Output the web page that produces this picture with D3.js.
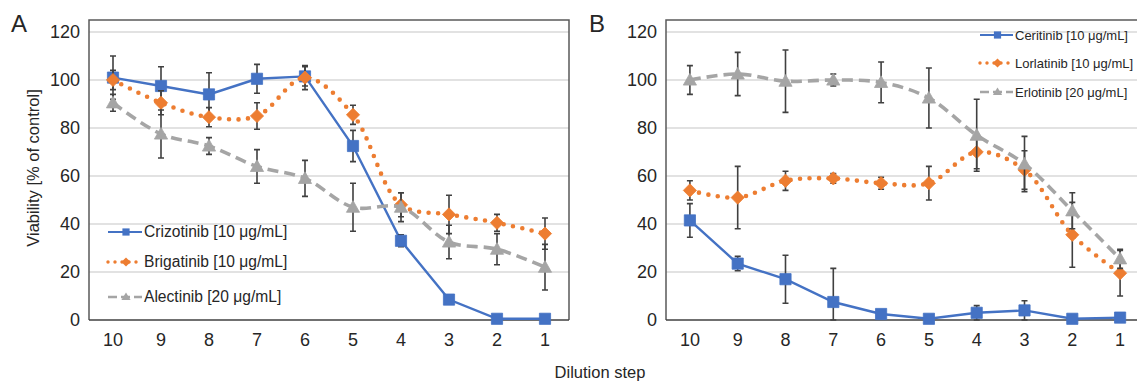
<!DOCTYPE html>
<html>
<head>
<meta charset="utf-8">
<script src="https://cdn.jsdelivr.net/npm/d3@7"></script>
<style>
    body { margin: 0; background: #fff; }
    svg text { font-family: "Liberation Sans", Arial, sans-serif; fill: #262626; }
</style>
</head>
<body>
<div id="wrapper"></div>
<script>

// Data

const steps = ["10", "9", "8", "7", "6", "5", "4", "3", "2", "1"]
const yTicks = [0, 20, 40, 60, 80, 100, 120]

// Panel A
const crizotinibMean = [101, 97.5, 94, 100.5, 101.5, 72.5, 33, 8.5, 0.5, 0.5]
const crizotinibErr = [9, 8, 9, 6, 4, 6.5, 2.5, 1, 0.5, 0.5]
const brigatinibMean = [100, 90.5, 84.5, 85, 101, 85.5, 48, 44, 40.5, 36]
const brigatinibErr = [4, 5, 4, 5.5, 5, 4, 5, 8, 3.5, 6.5]
const alectinibMean = [90.5, 77.5, 72.5, 64, 59, 47, 47, 32.5, 29.5, 22]
const alectinibErr = [3.5, 10, 3.5, 7, 7.5, 10, 6, 7, 6.5, 9.5]

// Panel B
const ceritinibMean = [41.5, 23.5, 17, 7.5, 2.5, 0.5, 3, 4, 0.5, 1]
const ceritinibErr = [7, 3, 10, 14, 1, 0.5, 3, 4, 0.5, 0.5]
const lorlatinibMean = [54, 51, 58, 59, 57, 57, 70, 62.5, 35.5, 19.5]
const lorlatinibErr = [4, 13, 4, 2, 2.5, 7, 7, 8, 13.5, 9.5]
const erlotinibMean = [100, 102.5, 99.5, 100, 99, 92.5, 77, 65, 45.5, 25.5]
const erlotinibErr = [6, 9, 13, 2.5, 8.5, 12.5, 15, 11.5, 7.5, 4]

const seriesNamesA = ["Crizotinib [10 μg/mL]", "Brigatinib [10 μg/mL]", "Alectinib [20 μg/mL]"]
const seriesNamesB = ["Ceritinib [10 μg/mL]", "Lorlatinib [10 μg/mL]", "Erlotinib [20 μg/mL]"]

const colors = ["#4472c4", "#ed7d31", "#a5a5a5"]

// Chart dimensions

const width = 1137
const height = 382

const wrapper = d3.select("#wrapper")
    .append("svg")
    .attr("width", width)
    .attr("height", height)

const yScale = d3.scaleLinear()
    .domain([0, 125])
    .range([320, 20])

const markerPath = (kind, s) => {
    if (kind === "square") return `M${-s},${-s}H${s}V${s}H${-s}Z`
    if (kind === "diamond") return `M0,${-s - 1}L${s + 1},0L0,${s + 1}L${-s - 1},0Z`
    return `M0,${-s - 1}L${s + 1},${s - 0.5}L${-s - 1},${s - 0.5}Z`
}

const lineStyles = [
    { kind: "square", width: 2.4, dash: null, cap: "butt", curve: d3.curveLinear },
    { kind: "diamond", width: 4.6, dash: "0 9.5", cap: "round", curve: d3.curveCatmullRom.alpha(0.5) },
    { kind: "triangle", width: 3.6, dash: "11 6", cap: "butt", curve: d3.curveCatmullRom.alpha(0.5) },
]

function drawPanel(cfg) {

    const xScale = d3.scaleBand()
        .domain(steps)
        .range([cfg.left, cfg.right])

    const x = d => xScale(d) + xScale.bandwidth() / 2

    const panel = wrapper.append("g")

    // grid
    panel.append("g")
        .selectAll("line")
        .data(yTicks.filter(d => d > 0))
        .join("line")
        .attr("x1", cfg.left)
        .attr("x2", cfg.frameRight)
        .attr("y1", d => yScale(d))
        .attr("y2", d => yScale(d))
        .attr("stroke", "#d9d9d9")
        .attr("stroke-width", 1.3)

    // frame
    panel.append("path")
        .attr("d", `M${cfg.left},${yScale(0)}V${yScale(125)}H${cfg.frameRight}V${yScale(0)}`)
        .attr("fill", "none")
        .attr("stroke", "#595959")
        .attr("stroke-width", 1.5)

    panel.append("line")
        .attr("x1", cfg.left)
        .attr("x2", cfg.frameRight)
        .attr("y1", yScale(0))
        .attr("y2", yScale(0))
        .attr("stroke", "#404040")
        .attr("stroke-width", 1.6)

    // y axis
    const yAxis = d3.axisLeft(yScale)
        .tickValues(yTicks)
        .tickSize(0)
        .tickPadding(0)
    const yAxisG = panel.append("g")
        .attr("transform", `translate(${cfg.left - 9},0)`)
        .call(yAxis)
    yAxisG.select(".domain").remove()
    yAxisG.selectAll("text")
        .attr("font-size", 18)
        .attr("fill", "#262626")

    // x axis
    const xAxis = d3.axisBottom(xScale)
        .tickSize(0)
        .tickPadding(0)
    const xAxisG = panel.append("g")
        .attr("transform", `translate(0,${yScale(0) + 13})`)
        .call(xAxis)
    xAxisG.select(".domain").remove()
    xAxisG.selectAll("text")
        .attr("font-size", 18)
        .attr("fill", "#262626")

    // panel letter
    panel.append("text")
        .attr("x", cfg.letterX)
        .attr("y", 32)
        .attr("font-size", 24)
        .attr("fill", "#111")
        .text(cfg.letter)

    // series
    cfg.series.forEach((s, i) => {
        const style = lineStyles[i]
        const g = panel.append("g")
        const rows = steps.map((step, j) => ({ step, mean: s.mean[j], err: s.err[j] }))

        const line = d3.line()
            .x(d => x(d.step))
            .y(d => yScale(d.mean))
            .curve(style.curve)

        g.append("path")
            .attr("d", line(rows))
            .attr("fill", "none")
            .attr("stroke", colors[i])
            .attr("stroke-width", style.width)
            .attr("stroke-dasharray", style.dash)
            .attr("stroke-linecap", style.cap)

        const bars = g.append("g")
            .attr("stroke", "#404040")
            .attr("stroke-width", 1.6)
        bars.selectAll(".bar")
            .data(rows)
            .join("path")
            .attr("class", "bar")
            .attr("fill", "none")
            .attr("d", d => {
                const cx = x(d.step)
                const y1 = yScale(d.mean + d.err)
                const y2 = yScale(Math.max(0, d.mean - d.err))
                return `M${cx},${y1}V${y2}M${cx - 3},${y1}H${cx + 3}M${cx - 3},${y2}H${cx + 3}`
            })

        g.selectAll(".marker")
            .data(rows)
            .join("path")
            .attr("class", "marker")
            .attr("transform", d => `translate(${x(d.step)},${yScale(d.mean)})`)
            .attr("d", markerPath(style.kind, 5.6))
            .attr("fill", colors[i])
            .attr("stroke", colors[i])
            .attr("stroke-width", 0.8)
    })

    // legend
    const legend = panel.append("g")
    cfg.series.forEach((s, i) => {
        const style = lineStyles[i]
        const ly = cfg.legendY[i]
        const lx = cfg.legendX
        const item = legend.append("g")
        item.append("line")
            .attr("x1", lx)
            .attr("x2", lx + cfg.legendLen)
            .attr("y1", ly)
            .attr("y2", ly)
            .attr("stroke", colors[i])
            .attr("stroke-width", style.width * 0.75)
            .attr("stroke-dasharray", i === 1 ? "0 7" : i === 2 ? "9 4" : null)
            .attr("stroke-linecap", style.cap)
        item.append("path")
            .attr("transform", `translate(${lx + cfg.legendLen / 2 + 1},${ly})`)
            .attr("d", markerPath(style.kind, 3.6))
            .attr("fill", colors[i])
        item.append("text")
            .attr("x", lx + cfg.legendLen + 2)
            .attr("y", ly)
            .attr("dy", "0.35em")
            .attr("font-size", cfg.legendFont)
            .text(s.name)
    })
}

drawPanel({
    letter: "A",
    letterX: 11,
    left: 89,
    right: 569,
    frameRight: 569,
    legendX: 108,
    legendLen: 34,
    legendY: [232, 262, 297],
    legendFont: 15.6,
    series: [
        { name: seriesNamesA[0], mean: crizotinibMean, err: crizotinibErr },
        { name: seriesNamesA[1], mean: brigatinibMean, err: brigatinibErr },
        { name: seriesNamesA[2], mean: alectinibMean, err: alectinibErr },
    ],
})

drawPanel({
    letter: "B",
    letterX: 589,
    left: 666,
    right: 1144,
    frameRight: 1140,
    legendX: 980,
    legendLen: 33,
    legendY: [35, 63, 92],
    legendFont: 13,
    series: [
        { name: seriesNamesB[0], mean: ceritinibMean, err: ceritinibErr },
        { name: seriesNamesB[1], mean: lorlatinibMean, err: lorlatinibErr },
        { name: seriesNamesB[2], mean: erlotinibMean, err: erlotinibErr },
    ],
})

// axis titles

wrapper.append("text")
    .attr("transform", `translate(39,168) rotate(-90)`)
    .attr("text-anchor", "middle")
    .attr("font-size", 16.5)
    .text("Viability [% of control]")

wrapper.append("text")
    .attr("x", 600)
    .attr("y", 378)
    .attr("text-anchor", "middle")
    .attr("font-size", 16.5)
    .text("Dilution step")

</script>
</body>
</html>
